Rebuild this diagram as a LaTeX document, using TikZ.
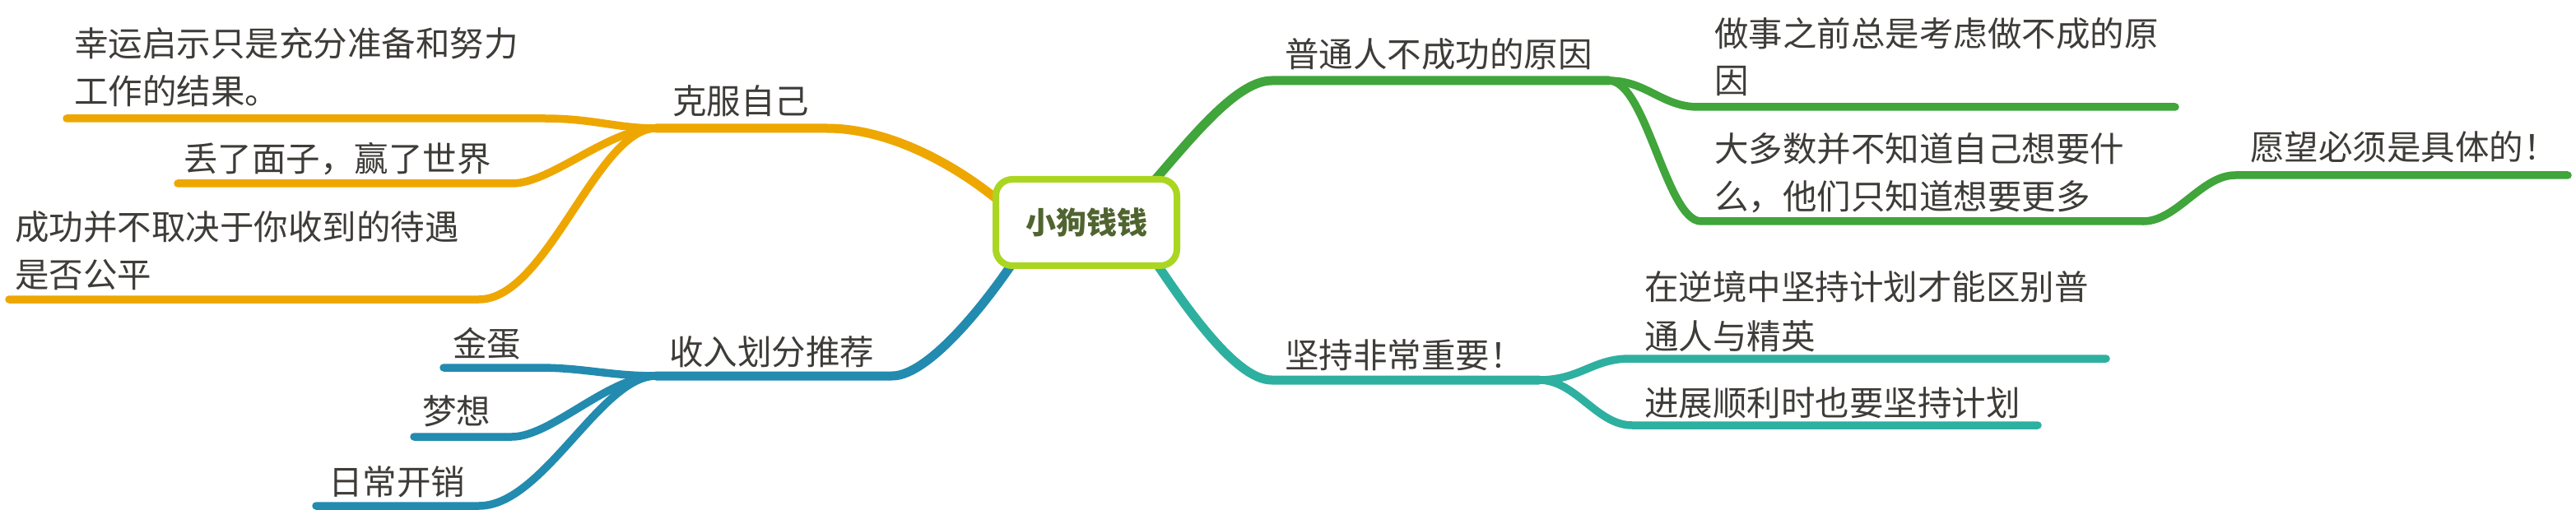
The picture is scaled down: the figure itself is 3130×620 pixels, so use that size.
\documentclass[tikz,border=0pt]{standalone}
\usepackage{fontspec}
\setmainfont{Noto Sans CJK SC}
\definecolor{corange}{RGB}{238,167,0}
\definecolor{cgreen}{RGB}{64,165,58}
\definecolor{cblue}{RGB}{34,139,175}
\definecolor{cteal}{RGB}{46,176,160}
\definecolor{clime}{RGB}{170,214,34}
\definecolor{croot}{RGB}{80,100,48}
\definecolor{ctext}{RGB}{62,60,56}
\tikzset{
  mainline/.style={line width=11pt, line cap=round},
  subline/.style={line width=9.5pt, line cap=round},
  lbl/.style={anchor=base west, inner sep=0pt, font=\fontsize{41.5}{58}\selectfont, text=ctext},
}
\begin{document}
\begin{tikzpicture}[x=1pt,y=-1pt]
\useasboundingbox (0,0) rectangle (3130,620);
% junction coordinates
\coordinate (oJ) at (797,156);
\coordinate (oM) at (1005,156);
\coordinate (oR) at (1230,258);
\coordinate (bJ) at (797,457);
\coordinate (bM) at (1084,457);
\coordinate (bR) at (1240,305);
\coordinate (gJ) at (1955,98);
\coordinate (gM) at (1545,98);
\coordinate (gR) at (1395,228);
\coordinate (tJ) at (1870,462);
\coordinate (tM) at (1545,462);
\coordinate (tR) at (1395,305);
\coordinate (o1) at (81,144);
\coordinate (o2) at (216,223);
\coordinate (o3) at (11,364);
\coordinate (b1) at (539,447);
\coordinate (b2) at (503,531);
\coordinate (b3) at (384,615);
\coordinate (g1) at (2643,130);
\coordinate (g2) at (2604,269);
\coordinate (g3) at (3120,213);
\coordinate (t1) at (2559,436);
\coordinate (t2) at (2476,517);
% main branches
\draw[mainline, corange] (oJ) -- (oM) .. controls (1080,156) and (1165,200) .. (oR);
\draw[mainline, cblue] (bJ) -- (bM) .. controls (1130,457) and (1205,360) .. (bR);
\draw[mainline, cgreen] (gR) .. controls (1440,178) and (1500,98) .. (gM) -- (gJ);
\draw[mainline, cteal] (tR) .. controls (1435,365) and (1500,462) .. (tM) -- (tJ);
% orange subs
\draw[subline, corange] (oJ) .. controls (750,156) and (720,144) .. (662,144) -- (o1);
\draw[subline, corange] (oJ) .. controls (740,156) and (670,223) .. (622,223) -- (o2);
\draw[subline, corange] (oJ) .. controls (725,156) and (665,364) .. (582,364) -- (o3);
% blue subs
\draw[subline, cblue] (bJ) .. controls (740,457) and (710,447) .. (654,447) -- (b1);
\draw[subline, cblue] (bJ) .. controls (740,457) and (670,531) .. (622,531) -- (b2);
\draw[subline, cblue] (bJ) .. controls (730,457) and (660,615) .. (582,615) -- (b3);
% green subs
\draw[subline, cgreen] (gJ) .. controls (2000,98) and (2020,130) .. (2063,130) -- (g1);
\draw[subline, cgreen] (gJ) .. controls (2000,98) and (2025,269) .. (2067,269) -- (g2);
\draw[subline, cgreen] (g2) .. controls (2645,269) and (2675,213) .. (2716,213) -- (g3);
% teal subs
\draw[subline, cteal] (tJ) .. controls (1920,462) and (1935,436) .. (1980,436) -- (t1);
\draw[subline, cteal] (tJ) .. controls (1915,462) and (1940,517) .. (1983,517) -- (t2);
% root
\node[draw=clime, line width=8pt, rounded corners=20pt, fill=white, minimum width=220pt, minimum height=105pt, inner sep=0pt, text=croot, font=\bfseries\fontsize{37}{40}\selectfont] (root) at (1320,270.5) {小狗钱钱};
% labels
\node[lbl] (L1a) at (90,69) {幸运启示只是充分准备和努力};
\node[lbl] (L1b) at (90,127) {工作的结果。};
\node[lbl] (L0) at (817,139) {克服自己};
\node[lbl] (L2) at (223,209) {丢了面子，赢了世界};
\node[lbl] (L3a) at (18,292) {成功并不取决于你收到的待遇};
\node[lbl] (L3b) at (18,349) {是否公平};
\node[lbl] (B0) at (813,443) {收入划分推荐};
\node[lbl] (B1) at (550,433) {金蛋};
\node[lbl] (B2) at (513,515) {梦想};
\node[lbl] (B3) at (399,601) {日常开销};
\node[lbl] (G0) at (1561,82) {普通人不成功的原因};
\node[lbl] (G1a) at (2083,57) {做事之前总是考虑做不成的原};
\node[lbl] (G1b) at (2083,114) {因};
\node[lbl] (G2a) at (2083,197) {大多数并不知道自己想要什};
\node[lbl] (G2b) at (2083,255) {么，他们只知道想要更多};
\node[lbl] (G3) at (2734,195) {愿望必须是具体的！};
\node[lbl] (T0) at (1561,447) {坚持非常重要！};
\node[lbl] (T1a) at (1998,364) {在逆境中坚持计划才能区别普};
\node[lbl] (T1b) at (1998,424) {通人与精英};
\node[lbl] (T2) at (1998,505) {进展顺利时也要坚持计划};
\end{tikzpicture}
\end{document}
